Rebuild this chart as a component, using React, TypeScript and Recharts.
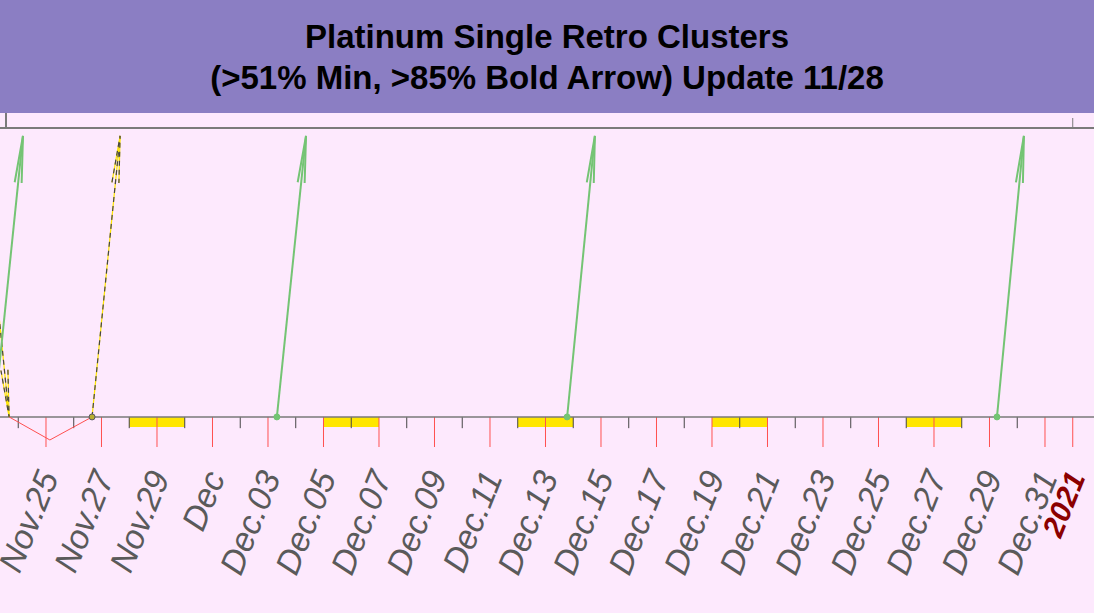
import React from 'react';
import { ComposedChart, Line, XAxis, YAxis, ReferenceLine, ReferenceArea } from 'recharts';

// Day index: days counted so that Nov.25 = 25, Dec.01 = 31, Jan.01 = 62
const RED_TICK_DAYS = [25, 27, 29, 31, 33, 35, 37, 39, 41, 43, 45, 47, 49, 51, 53, 55, 57, 59, 61, 62];
const RED_TICK_LABELS = ['Nov.25', 'Nov.27', 'Nov.29', 'Dec', 'Dec.03', 'Dec.05', 'Dec.07', 'Dec.09', 'Dec.11', 'Dec.13', 'Dec.15', 'Dec.17', 'Dec.19', 'Dec.21', 'Dec.23', 'Dec.25', 'Dec.27', 'Dec.29', 'Dec.31', '2021'];
const BLACK_TICK_DAYS = [22, 24, 26, 28, 30, 32, 34, 36, 38, 40, 42, 44, 46, 48, 50, 52, 54, 56, 58, 60];
const YEAR_TICK_DAYS = [62];

const WEEKEND_START = [28, 35, 42, 49, 56];
const WEEKEND_END = [30, 37, 44, 51, 58];

const GREEN_BASE = [23.13, 33.32, 43.78, 59.27];
const GREEN_TIP = [24.17, 34.37, 44.78, 60.24];
const BOLD_UP_BASE = [26.66];
const BOLD_UP_TIP = [27.67];
const BOLD_DOWN_FROM = [22.66];
const BOLD_DOWN_TO = [23.67];
const ARROW_LOW = 0;
const ARROW_HIGH = 100;

const RED_DAYS = [23.67, 25.14, 26.66];
const RED_VALUES = [0, -8.2, 0];

const X_DOMAIN: [number, number] = [19.7387, 66.586];
const Y_DOMAIN: [number, number] = [-10.7, 102.8];

const PINK = '#FDE9FD';
const PURPLE = '#8B7EC3';
const GREEN = '#74C474';
const RED = '#FF5050';

const TITLE1 = 'Platinum Single Retro Clusters';
const TITLE2 = '(>51% Min, >85% Bold Arrow) Update 11/28';

function makeDot(color: string, tipIndex: number, baseDot: boolean, width: number, dash?: string, baseFill?: string) {
  return (p: any) => {
    const { cx, cy, index, points } = p;
    if (cx == null || cy == null) return <g key={`e-${index}`} />;
    if (index === tipIndex) {
      const otherIdx = tipIndex === 1 ? 0 : 1;
      let ux = 0;
      let uy = 1;
      const other = points && points[otherIdx];
      if (other && other.x != null) {
        const dx = other.x - cx;
        const dy = other.y - cy;
        const L = Math.hypot(dx, dy) || 1;
        ux = dx / L;
        uy = dy / L;
      }
      const bx = cx + ux * 47;
      const by = cy + uy * 47;
      const px = -uy * 3.5;
      const py = ux * 3.5;
      return (
        <polyline
          key={`a-${index}`}
          points={`${bx + px},${by + py} ${cx},${cy} ${bx - px},${by - py}`}
          fill="none"
          stroke={color}
          strokeWidth={width}
          strokeDasharray={dash}
        />
      );
    }
    if (baseDot) {
      return <circle key={`b-${index}`} cx={cx} cy={cy} r={3} fill={baseFill || color} stroke={baseFill ? '#556' : color} strokeWidth={1} />;
    }
    return <g key={`e-${index}`} />;
  };
}

const AxisLabel = (props: any) => {
  const { x, y, payload } = props;
  const idx = RED_TICK_DAYS.indexOf(payload.value);
  if (idx < 0) return <g />;
  const label = RED_TICK_LABELS[idx];
  const isYear = label === '2021';
  return (
    <g transform={`translate(${x + 13},${y + 30})`}>
      <text
        textAnchor="end"
        transform="rotate(-68)"
        fontFamily="'Liberation Sans', Arial, sans-serif"
        fontSize={isYear ? 30 : 34}
        fontStyle="italic"
        fontWeight={isYear ? 'bold' : 'normal'}
        fill={isYear ? '#8B0000' : '#5a5a5a'}
      >
        {label}
      </text>
    </g>
  );
};

export default function App() {
  const greenSeries = GREEN_BASE.map((b, i) => [
    { d: b, v: ARROW_LOW },
    { d: GREEN_TIP[i], v: ARROW_HIGH },
  ]);
  const boldUp = BOLD_UP_BASE.map((b, i) => [
    { d: b, v: ARROW_LOW },
    { d: BOLD_UP_TIP[i], v: ARROW_HIGH },
  ]);
  const boldDown = BOLD_DOWN_FROM.map((b, i) => [
    { d: b, v: ARROW_HIGH },
    { d: BOLD_DOWN_TO[i], v: ARROW_LOW },
  ]);
  const redData = RED_DAYS.map((d, i) => ({ d, v: RED_VALUES[i] }));

  return (
    <div style={{ position: 'fixed', left: 0, top: 0, width: 1094, height: 613, overflow: 'hidden', background: PINK }}>
      <div style={{ position: 'absolute', left: -100, top: 0 }}>
        <ComposedChart width={1300} height={613} margin={{ top: 113, right: 0, bottom: 136, left: 0 }}>
          <XAxis
            xAxisId={0}
            dataKey="d"
            type="number"
            domain={X_DOMAIN}
            allowDataOverflow
            ticks={RED_TICK_DAYS}
            interval={0}
            axisLine={false}
            tickLine={false}
            tickSize={0}
            tickMargin={0}
            tick={<AxisLabel />}
            height={30}
          />
          <XAxis
            xAxisId="top"
            orientation="top"
            dataKey="d"
            type="number"
            domain={X_DOMAIN}
            allowDataOverflow
            ticks={YEAR_TICK_DAYS}
            interval={0}
            height={15}
            tickSize={10}
            axisLine={{ stroke: '#7a7a7a', strokeWidth: 2 }}
            tickLine={{ stroke: '#7a7a7a', strokeWidth: 1 }}
            tick={() => <g />}
          />
          <YAxis hide type="number" domain={Y_DOMAIN} allowDataOverflow />

          {WEEKEND_START.map((s, i) => (
            <ReferenceArea key={`w${i}`} x1={s} x2={WEEKEND_END[i]} y1={-3.6} y2={0} fill="#FFE600" fillOpacity={1} stroke="none" />
          ))}
          {BLACK_TICK_DAYS.map((d) => (
            <ReferenceLine key={`bt${d}`} segment={[{ x: d, y: 0 }, { x: d, y: -4 }]} stroke="#444" strokeWidth={1} />
          ))}
          {RED_TICK_DAYS.map((d) => (
            <ReferenceLine key={`rt${d}`} segment={[{ x: d, y: 0 }, { x: d, y: -10.7 }]} stroke={RED} strokeWidth={1} />
          ))}
          <ReferenceLine y={0} stroke="#787878" strokeWidth={1.5} />

          <Line
            data={redData}
            dataKey="v"
            type="linear"
            stroke={RED}
            strokeWidth={1}
            dot={false}
            activeDot={false}
            isAnimationActive={false}
            legendType="none"
          />
          {boldDown.map((data, i) => (
            <Line key={`bdy${i}`} data={data} dataKey="v" type="linear" stroke="#FFE600" strokeWidth={1.2}
              dot={makeDot('#FFE600', 1, false, 1.2)} activeDot={false} isAnimationActive={false} legendType="none" />
          ))}
          {boldDown.map((data, i) => (
            <Line key={`bdk${i}`} data={data} dataKey="v" type="linear" stroke="#444" strokeWidth={1.2} strokeDasharray="5 4"
              dot={makeDot('#444', 1, false, 1.2, '5 4')} activeDot={false} isAnimationActive={false} legendType="none" />
          ))}
          {boldUp.map((data, i) => (
            <Line key={`buy${i}`} data={data} dataKey="v" type="linear" stroke="#FFE600" strokeWidth={1.2}
              dot={makeDot('#FFE600', 1, false, 1.2)} activeDot={false} isAnimationActive={false} legendType="none" />
          ))}
          {boldUp.map((data, i) => (
            <Line key={`buk${i}`} data={data} dataKey="v" type="linear" stroke="#444" strokeWidth={1.2} strokeDasharray="5 4"
              dot={makeDot('#444', 1, true, 1.2, '5 4', '#B8B030')} activeDot={false} isAnimationActive={false} legendType="none" />
          ))}
          {greenSeries.map((data, i) => (
            <Line key={`g${i}`} data={data} dataKey="v" type="linear" stroke={GREEN} strokeWidth={2}
              dot={makeDot(GREEN, 1, true, 2)} activeDot={false} isAnimationActive={false} legendType="none" />
          ))}
        </ComposedChart>
      </div>
      <div style={{ position: 'absolute', left: 5, top: 113, width: 1200, height: 14, borderLeft: '2px solid #7a7a7a' }} />
      <div
        style={{
          position: 'absolute',
          left: 0,
          top: 0,
          width: 1094,
          height: 113,
          background: PURPLE,
          textAlign: 'center',
          fontFamily: "'Liberation Sans', Arial, sans-serif",
          fontWeight: 'bold',
          fontSize: 33,
          lineHeight: '41px',
          paddingTop: 16,
          boxSizing: 'border-box',
          color: '#000',
        }}
      >
        <div>{TITLE1}</div>
        <div>{TITLE2}</div>
      </div>
    </div>
  );
}
